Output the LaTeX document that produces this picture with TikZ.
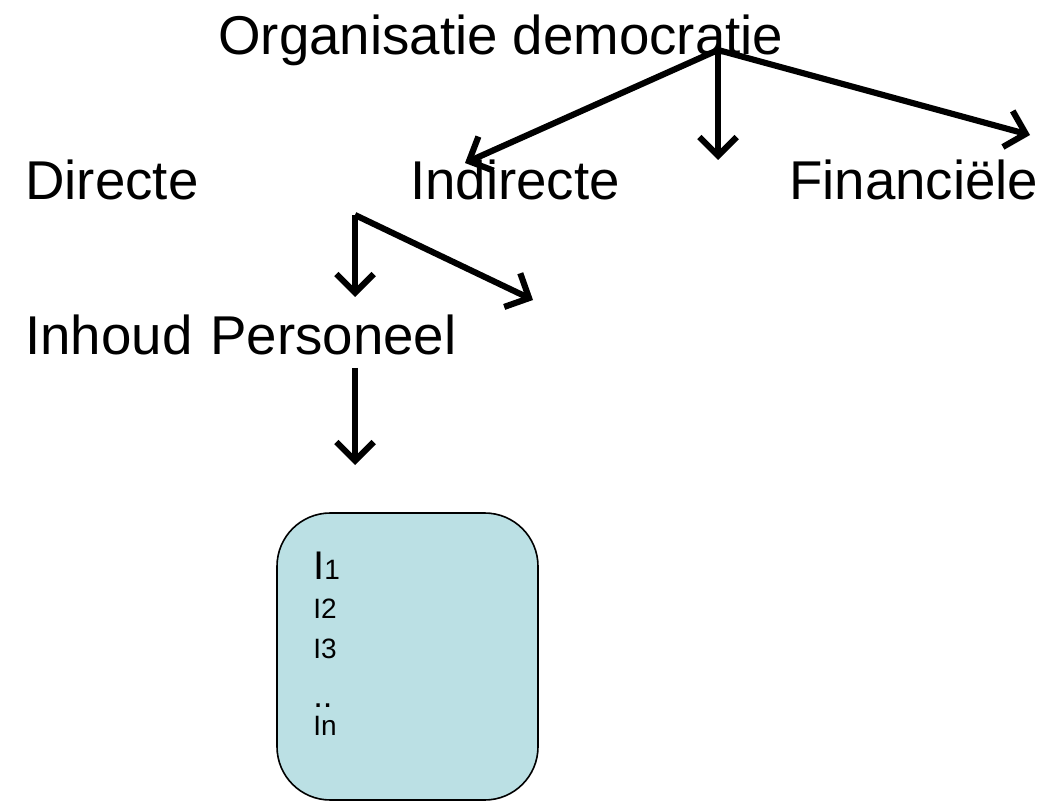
\documentclass[tikz,border=0pt]{standalone}
\usepackage{fontspec}
\setmainfont{Liberation Sans}
\usetikzlibrary{arrows.meta}
\definecolor{boxblue}{RGB}{187,224,228}
\tikzset{
    word/.style={anchor=base west,inner sep=0pt,font=\fontsize{41}{49}\selectfont},
    item/.style={anchor=base west,inner sep=0pt,font=\fontsize{21}{25}\selectfont},
    link/.style={line width=4.6pt,-{Straight Barb[length=14pt,width=28pt,line width=4.6pt]}},
}
\begin{document}
\begin{tikzpicture}[x=0.75pt,y=-0.75pt]
        \useasboundingbox (0,0) rectangle (1043,802);
        %% top level
        \node[word] (org) at (218,55) {Organisatie democratie};
        \node[word] (dir) at (25,200) {Directe};
        \node[word] (ind) at (410,200) {Indirecte};
        \node[word] (fin) at (789,200) {Financiële};
        \coordinate (top) at (718,50);
        \coordinate (mid) at (718,160);
        \draw[link] (top) -- (465,163);
        \draw[link] (top) -- (mid);
        \draw[link] (top) -- (1030,135);
        %% second level
        \node[word] (inh) at (25,355) {Inhoud};
        \node[word] (pers) at (210,355) {Personeel};
        \coordinate (fork) at (355,215);
        \coordinate (side) at (533,300);
        \draw[link] (fork) -- (355,297);
        \draw[link] (fork) -- (side);
        %% box with items
        \coordinate (down) at (355,368);
        \coordinate (boxtop) at (355,465);
        \draw[link] (down) -- (boxtop);
        \draw[fill=boxblue,line width=1.2pt,rounded corners=40] (277,513) rectangle (538,800);
        \node[item] (i1) at (313,579) {{\fontsize{30}{30}\selectfont I}1};
        \node[item] (i2) at (313,618) {I2};
        \node[item] (i3) at (313,658) {I3};
        \node[item] (idots) at (313,707) {\fontsize{26}{26}\selectfont ..};
        \node[item] (in) at (313,735) {In};
    \end{tikzpicture}
\end{document}
